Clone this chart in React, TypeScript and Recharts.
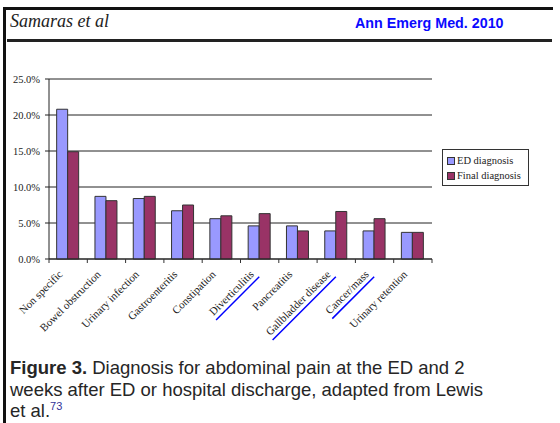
import React from "react";
import { BarChart, Bar, XAxis, YAxis, CartesianGrid, Legend } from "recharts";

const categories = [
  "Non specific",
  "Bowel obstruction",
  "Urinary infection",
  "Gastroenteritis",
  "Constipation",
  "Diverticulitis",
  "Pancreatitis",
  "Gallbladder disease",
  "Cancer/mass",
  "Urinary retention",
];
const edDiagnosis = [20.8, 8.7, 8.4, 6.7, 5.6, 4.6, 4.6, 3.9, 3.9, 3.7];
const finalDiagnosis = [14.9, 8.1, 8.7, 7.5, 6.0, 6.3, 3.9, 6.6, 5.6, 3.7];
const underlined = ["Diverticulitis", "Gallbladder disease", "Cancer/mass"];
const yTicks = [0, 5, 10, 15, 20, 25];
const seriesNames = ["ED diagnosis", "Final diagnosis"];

const data = categories.map((c, i) => ({
  name: c,
  ed: edDiagnosis[i],
  fin: finalDiagnosis[i],
}));

const CHART_W = 560;
const CHART_H = 345;
const MARGIN = { top: 79, right: 128, bottom: 0, left: 0 };
const Y_W = 49;
const X_H = CHART_H - 259 - MARGIN.bottom;
const band = (CHART_W - MARGIN.left - MARGIN.right - Y_W) / categories.length;

const TICK_FONT = "10.5px 'Liberation Serif', 'Times New Roman', serif";
const XTICK_FONT = "11px 'Liberation Serif', 'Times New Roman', serif";
let ctx: CanvasRenderingContext2D | null = null;
function measure(t: string): number {
  if (!ctx) {
    const c = document.createElement("canvas");
    ctx = c.getContext("2d");
  }
  if (!ctx) return t.length * 5;
  ctx.font = XTICK_FONT;
  return ctx.measureText(t).width;
}

const XTick = (props: any) => {
  const { x, y, payload, index } = props;
  const label = String(payload.value);
  const w = measure(label);
  const isUnder = underlined.includes(label);
  const left = x - band / 2;
  return (
    <g>
      <line x1={left} x2={left} y1={y} y2={y + 4} stroke="#333" strokeWidth={1} />
      {index === categories.length - 1 && (
        <line x1={x + band / 2} x2={x + band / 2} y1={y} y2={y + 4} stroke="#333" strokeWidth={1} />
      )}
      <g transform={`translate(${x - 5},${y + 16}) rotate(-45)`}>
        <text
          x={0}
          y={0}
          textAnchor="end"
          fill="#222"
          style={{ font: XTICK_FONT }}
        >
          {label}
        </text>
        {isUnder && (
          <line x1={-w - 1} x2={2} y1={4.5} y2={4.5} stroke="#0000ff" strokeWidth={1.5} />
        )}
      </g>
    </g>
  );
};

const LegendContent = () => {
  const colors = ["#9999FF", "#993366"];
  return (
    <div
      style={{
        border: "1px solid #333",
        background: "#fff",
        width: 87,
        height: 37,
        boxSizing: "border-box",
        padding: "3px 0 0 4px",
        font: "10.5px 'Liberation Serif', 'Times New Roman', serif",
        color: "#222",
        lineHeight: "15px",
      }}
    >
      {seriesNames.map((n, i) => (
        <div key={n} style={{ display: "flex", alignItems: "center", height: 15 }}>
          <span
            style={{
              display: "inline-block",
              width: 6,
              height: 6,
              background: colors[i],
              border: "1px solid #333",
              marginRight: 2,
            }}
          />
          <span>{n}</span>
        </div>
      ))}
    </div>
  );
};

export default function App() {
  return (
    <div
      style={{
        position: "absolute",
        left: 0,
        top: 0,
        width: 560,
        height: 423,
        background: "#fff",
        overflow: "hidden",
      }}
    >
      {/* frame lines */}
      <div style={{ position: "absolute", left: 3, top: 7, width: 550, height: 3, background: "#111" }} />
      <div style={{ position: "absolute", left: 3, top: 7, width: 3, height: 416, background: "#111" }} />
      <div style={{ position: "absolute", left: 7, top: 39, width: 545, height: 3, background: "#222" }} />
      <div
        style={{
          position: "absolute",
          left: 10,
          top: 11,
          font: "italic 18px 'Liberation Serif', 'Times New Roman', serif",
          color: "#222",
          whiteSpace: "nowrap",
        }}
      >
        Samaras et al
      </div>
      <div
        style={{
          position: "absolute",
          left: 355,
          top: 15,
          font: "bold 14.3px 'Liberation Sans', Arial, sans-serif",
          color: "#0a0aff",
          whiteSpace: "nowrap",
        }}
      >
        Ann Emerg Med. 2010
      </div>

      <div style={{ position: "absolute", left: 0, top: 0 }}>
        <BarChart
          width={CHART_W}
          height={CHART_H}
          data={data}
          margin={MARGIN}
          barCategoryGap="20%"
          barGap={0}
        >
          <CartesianGrid vertical={false} stroke="#222" strokeWidth={1} />
          <XAxis
            dataKey="name"
            interval={0}
            height={X_H}
            tickSize={0}
            tickMargin={0}
            tickLine={false}
            axisLine={{ stroke: "#222" }}
            tick={<XTick />}
          />
          <YAxis
            width={Y_W}
            domain={[0, 25]}
            ticks={yTicks}
            tickSize={4}
            tickMargin={5}
            axisLine={{ stroke: "#222" }}
            tickLine={{ stroke: "#222" }}
            tickFormatter={(v: number) => v.toFixed(1) + "%"}
            tick={{ fill: "#222", style: { font: TICK_FONT } }}
          />
          <Legend
            layout="vertical"
            align="center"
            verticalAlign="middle"
            content={<LegendContent />}
            wrapperStyle={{ position: "absolute", left: 442, top: 149, width: 87 }}
          />
          <Bar
            dataKey="ed"
            name={seriesNames[0]}
            fill="#9999FF"
            stroke="#333"
            strokeWidth={1}
            isAnimationActive={false}
          />
          <Bar
            dataKey="fin"
            name={seriesNames[1]}
            fill="#993366"
            stroke="#333"
            strokeWidth={1}
            isAnimationActive={false}
          />
        </BarChart>
      </div>

      <div
        style={{
          position: "absolute",
          left: 10,
          top: 357,
          width: 548,
          font: "18.5px 'Liberation Sans', Arial, sans-serif",
          lineHeight: "21.5px",
          color: "#262626",
          whiteSpace: "nowrap",
        }}
      >
        <b>Figure 3.</b> Diagnosis for abdominal pain at the ED and 2
        <br />
        weeks after ED or hospital discharge, adapted from Lewis
        <br />
        et al.<sup style={{ color: "#333399", fontSize: "11px", verticalAlign: "7px", lineHeight: 0 }}>73</sup>
      </div>
    </div>
  );
}
